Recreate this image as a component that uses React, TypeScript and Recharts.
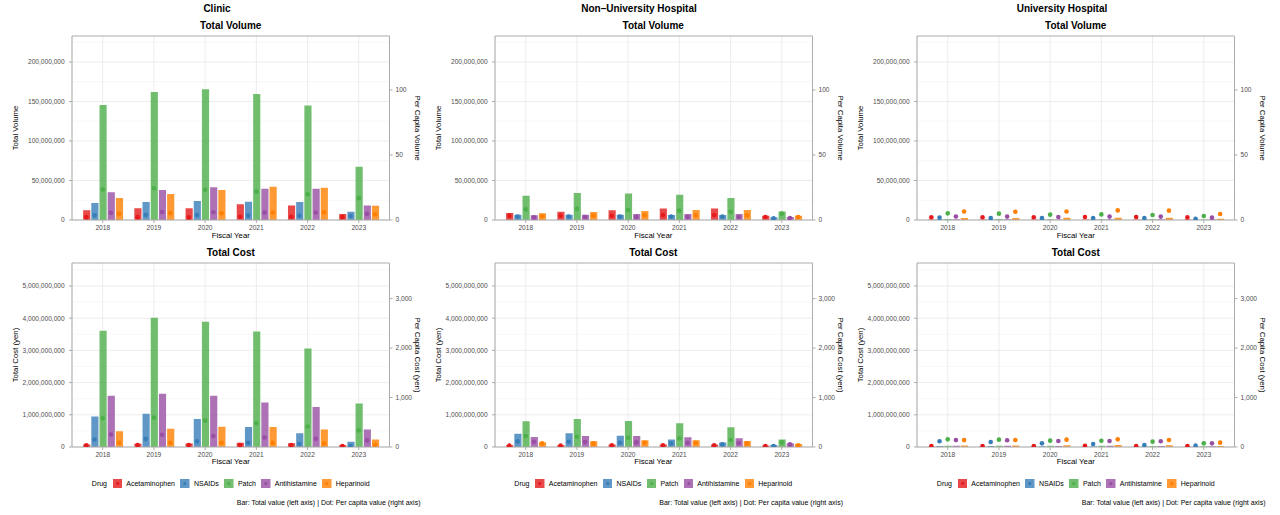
import React from 'react';
import { ComposedChart, Bar, Scatter, XAxis, YAxis, CartesianGrid, ReferenceLine } from 'recharts';

const FONT = '"Liberation Sans", Arial, Helvetica, sans-serif';

const YEARS = ['2018', '2019', '2020', '2021', '2022', '2023'];
const DRUGS = ['Acetaminophen', 'NSAIDs', 'Patch', 'Antihistamine', 'Heparinoid'];
const COLORS = ['#E41A1C', '#377EB8', '#4DAF4A', '#984EA3', '#FF7F00'];
const SETTINGS = ['Clinic', 'Non\u2013University Hospital', 'University Hospital'];

// rows: drugs (Acetaminophen, NSAIDs, Patch, Antihistamine, Heparinoid); cols: years
const CLINIC_TOTAL_VOLUME = [
  [12_200_000, 15_000_000, 15_000_000, 19_800_000, 18_500_000, 7_600_000],
  [21_500_000, 22_700_000, 24_000_000, 23_200_000, 22_700_000, 10_500_000],
  [145_500_000, 162_000_000, 165_500_000, 159_500_000, 145_000_000, 67_400_000],
  [35_000_000, 37_900_000, 41_300_000, 39_600_000, 39_600_000, 18_500_000],
  [28_000_000, 32_800_000, 37_900_000, 42_100_000, 40_800_000, 18_100_000],
];
const CLINIC_PC_VOLUME = [
  [2.2, 2.2, 2.0, 2.5, 2.5, 2.4],
  [3.6, 3.8, 3.8, 3.4, 3.4, 3.1],
  [23.5, 24.4, 23.3, 21.8, 19.8, 16.8],
  [5.6, 6.1, 6.0, 5.7, 5.8, 4.7],
  [4.9, 5.3, 5.2, 5.8, 5.9, 4.4],
];
const CLINIC_TOTAL_COST = [
  [80_000_000, 100_000_000, 110_000_000, 130_000_000, 120_000_000, 60_000_000],
  [950_000_000, 1_030_000_000, 870_000_000, 620_000_000, 430_000_000, 165_000_000],
  [3_610_000_000, 4_010_000_000, 3_890_000_000, 3_590_000_000, 3_060_000_000, 1_350_000_000],
  [1_590_000_000, 1_650_000_000, 1_590_000_000, 1_380_000_000, 1_240_000_000, 540_000_000],
  [490_000_000, 570_000_000, 630_000_000, 620_000_000, 540_000_000, 230_000_000],
];
const CLINIC_PC_COST = [
  [33, 40, 40, 40, 40, 20],
  [153, 160, 113, 87, 60, 20],
  [580, 593, 533, 480, 413, 333],
  [253, 247, 220, 193, 167, 133],
  [87, 87, 87, 87, 73, 47],
];

const NONUNI_TOTAL_VOLUME = [
  [8_800_000, 10_500_000, 12_200_000, 14_700_000, 14_700_000, 5_500_000],
  [6_700_000, 6_700_000, 6_700_000, 6_300_000, 6_300_000, 3_400_000],
  [30_700_000, 34_100_000, 33_700_000, 32_000_000, 27_800_000, 10_900_000],
  [5_900_000, 6_700_000, 7_600_000, 7_600_000, 7_600_000, 3_800_000],
  [8_400_000, 10_100_000, 11_400_000, 12_600_000, 12_600_000, 5_500_000],
];
const NONUNI_PC_VOLUME = [
  [3.3, 3.3, 3.3, 3.8, 3.8, 2.3],
  [2.6, 2.6, 2.6, 2.6, 2.6, 1.3],
  [8.2, 8.7, 7.7, 7.2, 6.4, 4.9],
  [2.0, 2.3, 2.3, 2.3, 2.3, 1.5],
  [2.8, 3.3, 3.6, 3.6, 3.6, 2.3],
];
const NONUNI_TOTAL_COST = [
  [60_000_000, 60_000_000, 80_000_000, 80_000_000, 80_000_000, 50_000_000],
  [410_000_000, 430_000_000, 350_000_000, 230_000_000, 140_000_000, 60_000_000],
  [800_000_000, 870_000_000, 810_000_000, 740_000_000, 610_000_000, 230_000_000],
  [310_000_000, 340_000_000, 340_000_000, 300_000_000, 270_000_000, 120_000_000],
  [150_000_000, 180_000_000, 210_000_000, 210_000_000, 190_000_000, 90_000_000],
];
const NONUNI_PC_COST = [
  [27, 27, 33, 33, 33, 20],
  [113, 107, 87, 73, 53, 20],
  [220, 207, 187, 173, 140, 93],
  [107, 100, 93, 87, 80, 53],
  [73, 73, 87, 87, 73, 33],
];

const UNIV_TOTAL_VOLUME = [
  [600_000, 600_000, 600_000, 700_000, 700_000, 500_000],
  [500_000, 500_000, 500_000, 500_000, 500_000, 300_000],
  [1_300_000, 1_200_000, 1_100_000, 1_100_000, 1_000_000, 700_000],
  [800_000, 800_000, 700_000, 800_000, 800_000, 500_000],
  [2_600_000, 2_600_000, 2_700_000, 3_000_000, 2_900_000, 1_600_000],
];
const UNIV_PC_VOLUME = [
  [2.1, 2.1, 2.1, 2.3, 2.3, 2.0],
  [1.8, 1.5, 1.5, 1.5, 1.5, 1.0],
  [5.1, 4.9, 4.1, 4.3, 3.8, 3.1],
  [2.7, 2.6, 2.3, 2.6, 2.6, 1.8],
  [6.5, 6.3, 6.5, 7.4, 7.2, 4.6],
];
const UNIV_TOTAL_COST = [
  [10_000_000, 10_000_000, 10_000_000, 10_000_000, 10_000_000, 8_000_000],
  [30_000_000, 30_000_000, 20_000_000, 20_000_000, 15_000_000, 10_000_000],
  [40_000_000, 40_000_000, 35_000_000, 35_000_000, 30_000_000, 20_000_000],
  [35_000_000, 35_000_000, 30_000_000, 35_000_000, 30_000_000, 20_000_000],
  [50_000_000, 50_000_000, 55_000_000, 60_000_000, 55_000_000, 30_000_000],
];
const UNIV_PC_COST = [
  [20, 20, 20, 25, 20, 18],
  [115, 101, 74, 61, 40, 27],
  [155, 149, 128, 125, 108, 74],
  [140, 135, 120, 120, 115, 74],
  [140, 142, 149, 155, 142, 88],
];

const VOLUME_TICKS = [0, 50_000_000, 100_000_000, 150_000_000, 200_000_000];
const VOLUME_MINOR = [25_000_000, 75_000_000, 125_000_000, 175_000_000, 225_000_000];
const VOLUME_PC_TICKS = [0, 50, 100];
const COST_TICKS = [0, 1_000_000_000, 2_000_000_000, 3_000_000_000, 4_000_000_000, 5_000_000_000];
const COST_MINOR = [500_000_000, 1_500_000_000, 2_500_000_000, 3_500_000_000, 4_500_000_000, 5_500_000_000];
const COST_PC_TICKS = [0, 1000, 2000, 3000];

// layout
const PLOT_W = 317.5;
const PLOT_H = 184;
const COL_LEFT = [72, 494.5, 917];
const COL_TITLE_X = [217, 639, 1062];
const ROW_TOP = [36, 262.7];
const UNIT = PLOT_W / 6.2;
const PAD = UNIT * 0.1;
const DODGE = 0.8 / 5;
const BAR_SIZE = (UNIT * 0.7) / 5;
const BAR_GAP = UNIT * DODGE - BAR_SIZE;
const BORDER = '#ABABAB';
const GRID = '#E8E8E8';
const GRID_MINOR = '#F1F1F1';
const TICK_TXT = '#4D4D4D';
const LEFT_AXIS_W = 66;
const RIGHT_AXIS_W = 30;
const M_LEFT = 6;
const M_RIGHT = 10;
const M_TOP = 4;
const X_AXIS_H = 16;

const fmt = (v: number) => v.toLocaleString('en-US');

type PanelProps = {
  left: number;
  top: number;
  totals: number[][];
  perCapita: number[][];
  leftMax: number;
  leftTicks: number[];
  leftMinor: number[];
  rightMax: number;
  rightTicks: number[];
};

function Panel({ left, top, totals, perCapita, leftMax, leftTicks, leftMinor, rightMax, rightTicks }: PanelProps) {
  const rows = YEARS.map((year, j) => {
    const r: Record<string, string | number> = { year };
    DRUGS.forEach((_, i) => {
      r['d' + i] = totals[i][j];
    });
    return r;
  });
  const W = M_LEFT + LEFT_AXIS_W + PLOT_W + RIGHT_AXIS_W + M_RIGHT;
  const H = M_TOP + PLOT_H + X_AXIS_H + 4;
  const tickStyle = { fontSize: 6.6, fill: TICK_TXT, fontFamily: FONT };
  return (
    <div style={{ position: 'absolute', left: left - M_LEFT - LEFT_AXIS_W, top: top - M_TOP, width: W, height: H }}>
      <ComposedChart
        width={W}
        height={H}
        data={rows}
        margin={{ top: M_TOP, left: M_LEFT, right: M_RIGHT, bottom: 4 }}
        barGap={BAR_GAP}
      >
        <CartesianGrid xAxisId="cat" yAxisId="left" horizontal={false} stroke={GRID} strokeWidth={0.8} />
        <CartesianGrid xAxisId="cat" yAxisId="left" vertical={false} horizontalValues={leftMinor} stroke={GRID_MINOR} strokeWidth={0.5} />
        <CartesianGrid xAxisId="cat" yAxisId="left" vertical={false} horizontalValues={leftTicks} stroke={GRID} strokeWidth={0.8} />
        <XAxis
          xAxisId="cat"
          dataKey="year"
          type="category"
          padding={{ left: PAD, right: PAD }}
          height={X_AXIS_H}
          tick={tickStyle}
          tickSize={3}
          tickMargin={2.2}
          axisLine={{ stroke: BORDER }}
          tickLine={{ stroke: BORDER }}
          interval={0}
        />
        <XAxis
          xAxisId="num"
          dataKey="x"
          type="number"
          domain={[-0.5, 5.5]}
          padding={{ left: PAD, right: PAD }}
          allowDataOverflow
          hide
        />
        <YAxis
          yAxisId="left"
          domain={[0, leftMax]}
          ticks={leftTicks}
          tickFormatter={fmt}
          allowDataOverflow
          width={LEFT_AXIS_W}
          tick={tickStyle}
          tickSize={3}
          tickMargin={4.3}
          axisLine={{ stroke: BORDER }}
          tickLine={{ stroke: BORDER }}
          interval={0}
        />
        <YAxis
          yAxisId="right"
          orientation="right"
          domain={[0, rightMax]}
          ticks={rightTicks}
          tickFormatter={fmt}
          allowDataOverflow
          width={RIGHT_AXIS_W}
          tick={{ ...tickStyle, textAnchor: 'start' }}
          tickSize={3}
          tickMargin={3}
          axisLine={{ stroke: BORDER }}
          tickLine={{ stroke: BORDER }}
          interval={0}
        />
        {DRUGS.map((d, i) => (
          <Bar
            key={d}
            xAxisId="cat"
            yAxisId="left"
            dataKey={'d' + i}
            name={d}
            fill={COLORS[i]}
            fillOpacity={0.8}
            barSize={BAR_SIZE}
            isAnimationActive={false}
          />
        ))}
        {DRUGS.map((d, i) => (
          <Scatter
            key={'s' + d}
            xAxisId="num"
            yAxisId="right"
            dataKey="y"
            name={d}
            data={YEARS.map((_, j) => ({ x: j + (i - 2) * DODGE, y: perCapita[i][j] }))}
            fill={COLORS[i]}
            isAnimationActive={false}
            shape={(p: any) => <circle cx={p.cx} cy={p.cy} r={2.3} fill={COLORS[i]} />}
          />
        ))}
        <ReferenceLine xAxisId="cat" yAxisId="left" y={leftMax} stroke={BORDER} ifOverflow="extendDomain" />
      </ComposedChart>
    </div>
  );
}

function Txt({
  x,
  y,
  children,
  size,
  bold,
  rotate,
  color,
  align,
}: {
  x: number;
  y: number;
  children: React.ReactNode;
  size: number;
  bold?: boolean;
  rotate?: number;
  color?: string;
  align?: 'center' | 'right';
}) {
  const tx = align === 'right' ? '-100%' : '-50%';
  return (
    <div
      style={{
        position: 'absolute',
        left: x,
        top: y,
        transform: `translate(${tx}, -50%) rotate(${rotate || 0}deg)`,
        fontSize: size,
        fontWeight: bold ? 700 : 400,
        color: color || '#000',
        whiteSpace: 'nowrap',
        lineHeight: 1,
        fontFamily: FONT,
      }}
    >
      {children}
    </div>
  );
}

function Legend({ cx, cy }: { cx: number; cy: number }) {
  return (
    <div
      style={{
        position: 'absolute',
        left: cx - 200,
        top: cy - 6,
        width: 400,
        height: 12,
        display: 'flex',
        alignItems: 'center',
        justifyContent: 'center',
        fontFamily: FONT,
        fontSize: 7,
        color: '#000',
      }}
    >
      <span style={{ marginRight: 5.8 }}>Drug</span>
      {DRUGS.map((d, i) => (
        <span key={d} style={{ display: 'flex', alignItems: 'center', marginRight: i < DRUGS.length - 1 ? 5.5 : 0 }}>
          <svg width={9.5} height={9} style={{ marginRight: 4 }}>
            <rect x={0} y={0} width={9.5} height={9} fill={COLORS[i]} fillOpacity={0.8} />
            <circle cx={4.75} cy={4.5} r={1.6} fill={COLORS[i]} />
          </svg>
          <span>{d}</span>
        </span>
      ))}
    </div>
  );
}

const PANELS = [
  { totals: CLINIC_TOTAL_VOLUME, pc: CLINIC_PC_VOLUME, col: 0, row: 0 },
  { totals: NONUNI_TOTAL_VOLUME, pc: NONUNI_PC_VOLUME, col: 1, row: 0 },
  { totals: UNIV_TOTAL_VOLUME, pc: UNIV_PC_VOLUME, col: 2, row: 0 },
  { totals: CLINIC_TOTAL_COST, pc: CLINIC_PC_COST, col: 0, row: 1 },
  { totals: NONUNI_TOTAL_COST, pc: NONUNI_PC_COST, col: 1, row: 1 },
  { totals: UNIV_TOTAL_COST, pc: UNIV_PC_COST, col: 2, row: 1 },
];

export default function App() {
  return (
    <div style={{ position: 'absolute', left: 0, top: 0, width: 1280, height: 515, background: '#fff', overflow: 'hidden' }}>
      {SETTINGS.map((s, c) => (
        <Txt key={s} x={COL_TITLE_X[c]} y={9} size={10} bold>
          {s}
        </Txt>
      ))}
      {PANELS.map((p, k) => {
        const L = COL_LEFT[p.col];
        const T = ROW_TOP[p.row];
        const isVol = p.row === 0;
        const cx = L + PLOT_W / 2;
        return (
          <React.Fragment key={k}>
            <Txt x={cx} y={T - 10} size={10} bold>
              {isVol ? 'Total Volume' : 'Total Cost'}
            </Txt>
            <Panel
              left={L}
              top={T}
              totals={p.totals}
              perCapita={p.pc}
              leftMax={isVol ? 232_900_000 : 5_714_000_000}
              leftTicks={isVol ? VOLUME_TICKS : COST_TICKS}
              leftMinor={isVol ? VOLUME_MINOR : COST_MINOR}
              rightMax={isVol ? 141.5 : 3720}
              rightTicks={isVol ? VOLUME_PC_TICKS : COST_PC_TICKS}
            />
            <Txt x={L - 56} y={T + PLOT_H / 2} size={7.8} rotate={-90}>
              {isVol ? 'Total Volume' : 'Total Cost (yen)'}
            </Txt>
            <Txt x={L + PLOT_W + 27.5} y={T + PLOT_H / 2} size={7.8} rotate={90}>
              {isVol ? 'Per Capita Volume' : 'Per Capita Cost (yen)'}
            </Txt>
            <Txt x={cx} y={T + PLOT_H + 15.5} size={7.8}>
              Fiscal Year
            </Txt>
            {!isVol && <Legend cx={cx} cy={483.3} />}
            {!isVol && (
              <Txt x={L + PLOT_W + 31} y={502} size={7} align="right">
                Bar: Total value (left axis) | Dot: Per capita value (right axis)
              </Txt>
            )}
          </React.Fragment>
        );
      })}
    </div>
  );
}
